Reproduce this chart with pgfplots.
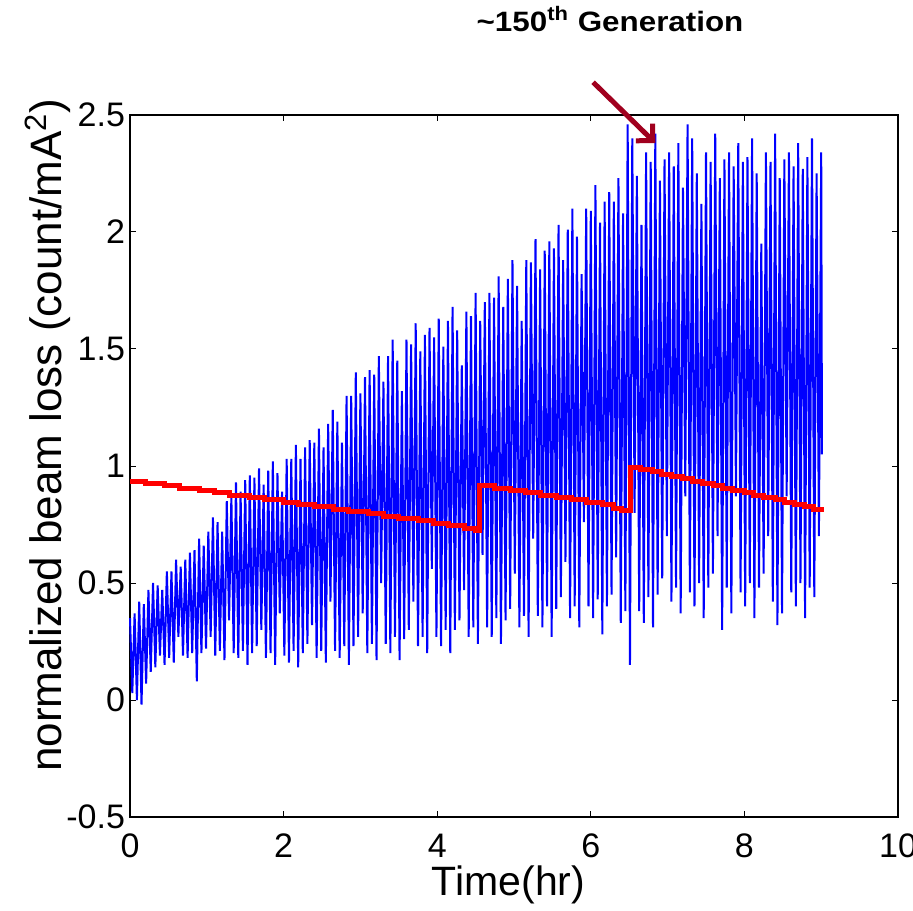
\documentclass[border=0pt]{standalone}
\usepackage{fontspec}
\setmainfont{Liberation Sans}
\usepackage{pgfplots}
\pgfplotsset{compat=1.18}
\usetikzlibrary{arrows.meta}
\definecolor{arrowred}{RGB}{160,0,30}
\begin{document}
\begin{tikzpicture}
\begin{axis}[name=ax, scale only axis, width=384pt, height=351pt,
  xmin=0, xmax=10, ymin=-0.5, ymax=2.5, clip=false,
  xtick={0,2,4,6,8,10}, xticklabels={0,2,4,6,8,10},
  ytick={-0.5,0,0.5,1,1.5,2,2.5}, yticklabels={-0.5,0,0.5,1,1.5,2,2.5},
  tick align=inside, major tick length=3pt,
  tick style={black, line width=0.5pt},
  axis line style={line width=0.6pt},
  ticklabel style={font=\fontsize{17}{20}\selectfont},
  xticklabel style={anchor=base, yshift=-20pt},
  yticklabel style={anchor=east, xshift=1pt},
  xlabel={Time(hr)},
  xlabel style={font=\fontsize{20.5}{24}\selectfont, at={(axis description cs:0.493,0)}, anchor=base, yshift=-39pt},
  ylabel={normalized beam loss (count/mA\textsuperscript{2})},
  ylabel style={font=\fontsize{22}{26}\selectfont, at={(axis description cs:-0.107,0.544)}, anchor=center},
]
\addplot[color={rgb,255:red,0;green,0;blue,255}, line width=1pt, line join=miter, miter limit=1] coordinates {
(0.00,0.35)(0.03,0.03)(0.06,0.37)(0.09,0.00)(0.12,0.42)(0.15,-0.02)(0.18,0.41)(0.21,0.07)
(0.24,0.47)(0.27,0.12)(0.30,0.50)(0.33,0.14)(0.36,0.49)(0.39,0.19)(0.42,0.47)(0.45,0.15)
(0.48,0.55)(0.51,0.18)(0.54,0.55)(0.57,0.16)(0.60,0.60)(0.63,0.27)(0.66,0.57)(0.69,0.19)
(0.72,0.60)(0.75,0.18)(0.78,0.63)(0.81,0.20)(0.84,0.64)(0.87,0.08)(0.90,0.69)(0.93,0.20)
(0.96,0.66)(0.99,0.22)(1.02,0.72)(1.05,0.27)(1.08,0.78)(1.11,0.19)(1.14,0.76)(1.17,0.21)
(1.20,0.72)(1.23,0.17)(1.26,0.85)(1.29,0.34)(1.32,0.87)(1.35,0.20)(1.38,0.93)(1.41,0.18)
(1.44,0.89)(1.47,0.21)(1.50,0.94)(1.53,0.15)(1.56,0.96)(1.59,0.20)(1.62,0.95)(1.65,0.23)
(1.68,0.99)(1.71,0.30)(1.74,0.92)(1.77,0.18)(1.80,0.98)(1.83,0.20)(1.86,1.02)(1.89,0.15)
(1.92,0.97)(1.95,0.37)(1.98,0.89)(2.01,0.19)(2.04,1.03)(2.07,0.16)(2.10,1.03)(2.13,0.21)
(2.16,1.09)(2.19,0.14)(2.22,1.03)(2.25,0.20)(2.28,1.08)(2.31,0.24)(2.34,1.11)(2.37,0.32)
(2.40,1.10)(2.43,0.18)(2.46,1.16)(2.49,0.21)(2.52,1.08)(2.55,0.16)(2.58,1.18)(2.61,0.42)
(2.64,1.24)(2.67,0.21)(2.70,1.19)(2.73,0.18)(2.76,1.10)(2.79,0.23)(2.82,1.30)(2.85,0.15)
(2.88,1.30)(2.91,0.23)(2.94,1.40)(2.97,0.27)(3.00,1.31)(3.03,0.37)(3.06,1.38)(3.09,0.20)
(3.12,1.41)(3.15,0.24)(3.18,1.39)(3.21,0.17)(3.24,1.47)(3.27,0.50)(3.30,1.36)(3.33,0.24)
(3.36,1.47)(3.39,0.20)(3.42,1.54)(3.45,0.27)(3.48,1.45)(3.51,0.17)(3.54,1.32)(3.57,0.26)
(3.60,1.54)(3.63,0.30)(3.66,1.52)(3.69,0.42)(3.72,1.61)(3.75,0.23)(3.78,1.49)(3.81,0.27)
(3.84,1.56)(3.87,0.20)(3.90,1.59)(3.93,0.56)(3.96,1.55)(3.99,0.27)(4.02,1.63)(4.05,0.23)
(4.08,1.51)(4.11,0.30)(4.14,1.62)(4.17,0.20)(4.20,1.68)(4.23,0.30)(4.26,1.58)(4.29,0.34)
(4.32,1.43)(4.35,0.47)(4.38,1.66)(4.41,0.27)(4.44,1.64)(4.47,0.31)(4.50,1.74)(4.53,0.24)
(4.56,1.62)(4.59,0.62)(4.62,1.70)(4.65,0.31)(4.68,1.74)(4.71,0.27)(4.74,1.72)(4.77,0.35)
(4.80,1.81)(4.83,0.24)(4.86,1.68)(4.89,0.34)(4.92,1.80)(4.95,0.39)(4.98,1.88)(5.01,0.54)
(5.04,1.77)(5.07,0.31)(5.10,1.62)(5.13,0.36)(5.16,1.88)(5.19,0.27)(5.22,1.87)(5.25,0.69)
(5.28,1.97)(5.31,0.36)(5.34,1.84)(5.37,0.31)(5.40,1.92)(5.43,0.40)(5.46,1.96)(5.49,0.27)
(5.52,1.93)(5.55,0.39)(5.58,2.03)(5.61,0.44)(5.64,1.88)(5.67,0.59)(5.70,2.01)(5.73,0.35)
(5.76,2.10)(5.79,0.40)(5.82,1.98)(5.85,0.31)(5.88,1.82)(5.91,0.76)(5.94,2.10)(5.97,0.40)
(6.00,2.09)(6.03,0.35)(6.06,2.20)(6.09,0.43)(6.12,2.04)(6.15,0.28)(6.18,2.13)(6.21,0.40)
(6.24,2.17)(6.27,0.45)(6.30,2.13)(6.33,0.61)(6.36,2.23)(6.39,0.33)(6.42,2.08)(6.45,0.38)
(6.48,2.46)(6.51,0.15)(6.54,2.40)(6.57,0.80)(6.60,2.24)(6.63,0.38)(6.66,2.03)(6.69,0.33)
(6.72,2.34)(6.75,0.44)(6.78,2.30)(6.81,0.31)(6.84,2.42)(6.87,0.45)(6.90,2.22)(6.93,0.52)
(6.96,2.31)(6.99,0.70)(7.02,2.34)(7.05,0.42)(7.08,2.28)(7.11,0.48)(7.14,2.38)(7.17,0.37)
(7.20,2.19)(7.23,0.87)(7.26,2.46)(7.29,0.46)(7.32,2.40)(7.35,0.40)(7.38,2.25)(7.41,0.50)
(7.44,2.12)(7.47,0.35)(7.50,2.34)(7.53,0.48)(7.56,2.30)(7.59,0.54)(7.62,2.42)(7.65,0.70)
(7.68,2.23)(7.71,0.30)(7.74,2.31)(7.77,0.48)(7.80,2.34)(7.83,0.37)(7.86,2.28)(7.89,0.87)
(7.92,2.38)(7.95,0.46)(7.98,2.30)(8.01,0.40)(8.04,2.32)(8.07,0.50)(8.10,2.40)(8.13,0.35)
(8.16,2.25)(8.19,0.48)(8.22,1.95)(8.25,0.54)(8.28,2.34)(8.31,0.70)(8.34,2.30)(8.37,0.42)
(8.40,2.42)(8.43,0.32)(8.46,2.23)(8.49,0.37)(8.52,2.31)(8.55,0.87)(8.58,2.34)(8.61,0.46)
(8.64,2.28)(8.67,0.40)(8.70,2.38)(8.73,0.50)(8.76,2.27)(8.79,0.35)(8.82,2.32)(8.85,0.48)
(8.88,2.40)(8.91,0.44)(8.94,2.25)(8.97,0.70)(9.00,2.34)(9.01,1.05)
};
\addplot[color={rgb,255:red,255;green,0;blue,0}, line width=2.5pt, const plot] coordinates {
(0.00,0.935)(0.20,0.925)(0.45,0.915)(0.65,0.905)(0.90,0.895)(1.10,0.885)(1.30,0.875)
(1.55,0.865)(1.75,0.855)(2.00,0.845)(2.20,0.835)(2.40,0.825)(2.65,0.815)(2.85,0.805)
(3.10,0.795)(3.30,0.785)(3.50,0.775)(3.75,0.765)(3.95,0.755)(4.15,0.745)(4.35,0.735)
(4.50,0.725)(4.55,0.915)(4.75,0.905)(4.95,0.895)(5.15,0.885)(5.35,0.875)(5.55,0.865)
(5.75,0.855)(5.95,0.845)(6.15,0.835)(6.30,0.820)(6.40,0.810)(6.52,0.995)(6.65,0.985)
(6.80,0.975)(6.92,0.965)(7.05,0.955)(7.20,0.945)(7.32,0.935)(7.45,0.925)(7.60,0.915)
(7.72,0.905)(7.85,0.895)(8.00,0.885)(8.12,0.875)(8.25,0.865)(8.40,0.855)(8.52,0.845)
(8.65,0.835)(8.78,0.825)(8.90,0.815)(9.00,0.805)
};
\node[font=\bfseries\fontsize{14}{16}\selectfont] at (axis cs:6.25,2.91) {\scalebox{1.12}[1]{\textasciitilde150\textsuperscript{th} Generation}};
\draw[arrowred, line width=2.5pt, -{Straight Barb[length=6pt,width=12pt]}] (axis cs:6.03,2.64) -- (axis cs:6.84,2.38);
\end{axis}
\pgfresetboundingbox
\path[use as bounding box] ([shift={(-65pt,-46.5pt)}]ax.south west) rectangle ([shift={(7.5pt,57.5pt)}]ax.north east);
\end{tikzpicture}
\end{document}
